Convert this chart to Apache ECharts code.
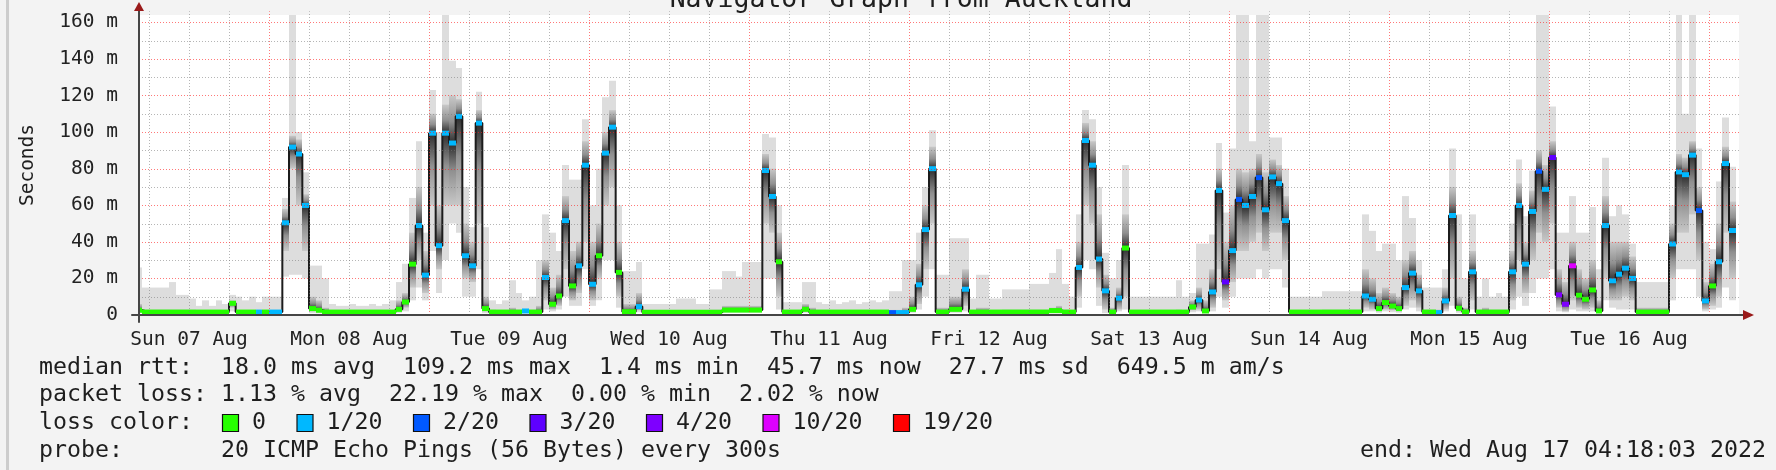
<!DOCTYPE html>
<html>
<head>
<meta charset="utf-8">
<script src="https://cdn.jsdelivr.net/npm/echarts@6/dist/echarts.min.js"></script>
<style>
html,body{margin:0;padding:0;background:#f3f3f3;}
#chart{width:1776px;height:470px;}
</style>
</head>
<body>
<div id="chart"></div>
<script>
// ---------------- data ----------------
const titleText = 'Navigator Graph from Auckland';
const yAxisTitle = 'Seconds';
const startHour = 4;      // first hourly step starts Sun 07 Aug 04:00 (hours after Sun 07 Aug 00:00)
const graphStart = 4.5;   // left edge of plot (hours after Sun 07 Aug 00:00)
const graphHours = 240;   // 10 days shown
const yCanvasMax = 164;   // top of plot canvas, ms
const dayLabels = ['Sun 07 Aug','Mon 08 Aug','Tue 09 Aug','Wed 10 Aug','Thu 11 Aug','Fri 12 Aug','Sat 13 Aug','Sun 14 Aug','Mon 15 Aug','Tue 16 Aug'];
const yTickValues = [0,20,40,60,80,100,120,140,160];

// median rtt per hour (ms)
const median = [
 2.6,1.6,1.6,1.6,1.6,1.6,1.6,1.6,1.6,1.6,
 1.6,1.6,1.6,1.6,6.4,1.6,1.6,1.6,1.6,1.6,
 1.6,1.6,50.4,91.8,88.0,59.9,3.5,2.6,1.6,1.6,
 1.6,1.6,1.6,1.6,1.6,1.6,1.6,1.6,1.6,3.1,
 7.1,27.8,48.9,21.8,99.4,37.9,99.4,94.0,108.6,32.4,
 26.9,104.9,3.5,1.6,1.6,1.6,1.6,1.6,2.2,1.6,
 1.6,20.5,5.9,10.4,51.6,15.9,26.9,81.9,16.8,32.4,
 88.5,102.7,23.3,1.8,1.8,4.6,1.5,1.5,1.5,1.5,
 1.5,1.5,1.5,1.5,1.5,1.5,1.5,1.5,2.7,2.7,
 2.7,2.7,2.7,2.7,79.0,64.8,29.1,1.6,1.6,1.6,
 3.1,1.6,1.6,1.6,1.6,1.6,1.6,1.6,1.6,1.6,
 1.6,1.6,1.6,1.3,1.3,1.3,3.1,16.5,46.7,80.0,
 1.6,1.6,3.1,3.1,14.1,1.6,1.6,1.6,1.6,1.6,
 1.6,1.6,1.6,1.6,1.6,1.6,1.6,2.4,2.4,1.6,
 1.6,26.0,95.4,81.9,30.6,13.2,1.6,9.2,36.6,1.6,
 1.6,1.6,1.6,1.6,1.6,1.6,1.6,1.6,4.4,8.2,
 2.2,12.6,68.1,18.1,35.2,63.2,59.9,64.8,75.1,57.5,
 75.5,71.8,51.6,1.6,1.6,1.6,1.6,1.6,1.6,1.6,
 1.6,1.6,1.6,1.6,10.4,8.6,3.5,6.8,4.9,3.5,
 15.0,22.9,13.2,1.6,1.6,1.3,7.7,54.4,3.7,1.6,
 23.6,1.6,1.6,1.6,1.6,1.6,23.6,59.9,27.8,56.6,
 78.6,68.7,86.1,11.0,5.9,26.9,10.8,8.6,13.7,2.2,
 48.9,18.7,22.3,25.6,20.0,1.6,1.6,1.6,1.6,1.6,
 38.8,78.2,76.7,87.4,57.1,7.7,15.9,29.1,82.8,46.2
];
// lost pings (of 20) per hour
const loss = [
 0,0,0,0,0,0,0,0,0,0,
 0,0,0,0,0,0,0,0,1,0,
 1,1,1,1,1,1,0,0,0,0,
 0,0,0,0,0,0,0,0,0,0,
 0,0,1,1,1,1,1,1,1,1,
 1,1,0,0,0,0,0,0,1,0,
 0,1,0,0,1,0,1,1,1,0,
 1,1,0,0,0,1,0,0,0,0,
 0,0,0,0,0,0,0,0,0,0,
 0,0,0,0,1,1,0,0,0,0,
 0,0,0,0,0,0,0,0,0,0,
 0,0,0,2,1,1,0,1,1,1,
 0,0,0,0,1,0,0,0,0,0,
 0,0,0,0,0,0,0,0,0,0,
 0,1,1,1,1,1,0,1,0,0,
 0,0,0,0,0,0,0,0,0,1,
 0,1,1,3,1,2,1,1,2,1,
 1,1,1,0,0,0,0,0,0,0,
 0,0,0,0,1,1,0,0,0,0,
 1,1,1,0,0,1,1,1,0,0,
 1,0,0,0,0,0,1,1,1,1,
 2,1,3,4,4,10,0,0,0,0,
 1,1,1,1,1,0,0,0,0,0,
 1,1,1,1,2,1,0,1,1,1
];
// smoke: slowest ping per hour (ms)
const pingMax = [
 26,15,15,15,15,18,11,11,9,5,
 8,5,8,6,11,10,8,10,7,10,
 10,10,64,180,100,78,27,27,20,6,
 5,5,6,5,5,6,5,6,8,18,
 28,64,95,45,123,100,180,139,135,70,
 48,122,48,8,6,8,19,12,8,10,
 30,55,45,35,82,74,74,107,60,80,
 119,128,60,24,24,29,6,6,6,6,
 6,9,9,9,6,6,14,14,24,24,
 21,29,29,29,99,97,60,7,7,7,
 18,18,7,6,8,6,7,8,6,7,
 8,7,8,13,13,30,30,45,70,101,
 22,22,42,42,42,9,22,22,9,9,
 14,14,14,14,17,17,17,23,36,17,
 10,55,112,107,70,34,20,30,82,10,
 10,10,10,10,10,10,19,10,12,39,
 39,44,94,56,91,180,180,95,180,180,
 97,97,80,10,10,10,10,10,13,13,
 13,13,13,13,55,46,35,39,39,30,
 65,53,30,15,15,15,25,91,55,20,
 55,10,20,10,12,10,50,85,54,79,
 180,180,114,45,45,65,45,45,59,25,
 86,54,60,55,39,18,18,18,18,18,
 60,180,110,180,91,40,36,73,108,81
];
// smoke: upper edge of the dense core (ms)
const pingHi = [
 6,3,3,3,3,3,3,3,3,2.8,
 2.8,2.8,2.8,2.8,8,2.8,2.8,2.8,2.8,2.8,
 2.8,2.8,58,98,96,66,10,8,4,2.8,
 2.8,2.8,2.8,2.8,2.8,2.8,2.8,2.8,2.8,8,
 12,45,70,35,110,60,115,120,118,50,
 40,112,10,3,2.8,2.8,4,3,3,3,
 5,30,15,22,65,35,40,95,40,50,
 100,112,40,6,6,12,2.8,2.8,2.8,2.8,
 2.8,2.8,2.8,2.8,2.8,2.8,3,3,5,5,
 5,5,5,5,88,80,45,2.8,2.8,2.8,
 6,4,2.8,2.8,2.8,2.8,2.8,2.8,2.8,2.8,
 2.8,2.8,2.8,2.8,2.8,4,10,28,60,92,
 4,4,10,10,25,2.8,4,4,2.8,2.8,
 3,3,3,3,3,3,3,4,5,3,
 2.8,40,105,95,55,22,4,15,55,2.8,
 2.8,2.8,2.8,2.8,2.8,2.8,3,2.8,8,15,
 8,25,80,40,60,80,78,80,88,78,
 85,82,65,2.8,2.8,2.8,2.8,2.8,3,3,
 3,3,3,3,25,20,12,15,12,10,
 30,35,22,3,3,3,15,70,10,4,
 35,3,4,3,3,3,35,72,40,68,
 90,82,95,25,18,40,25,20,30,8,
 65,40,40,40,32,4,4,4,4,4,
 50,88,86,95,70,18,28,50,92,62
];
// smoke: lower edge of the dense core (ms)
const pingLo = [
 1.5,1.1,1.1,1.1,1.1,1.1,1.1,1.1,1.1,1.1,
 1.1,1.1,1.1,1.1,4,1.1,1.1,1.1,1.1,1.1,
 1.1,1.1,35,80,60,35,2,1.5,1.1,1.1,
 1.1,1.1,1.1,1.1,1.1,1.1,1.1,1.1,1.1,1.8,
 4,15,30,12,60,25,60,60,60,20,
 18,50,2,1.1,1.1,1.1,1.1,1.1,1.1,1.1,
 1.1,8,3,5,25,8,12,40,8,20,
 60,70,10,1.2,1.2,2.5,1.1,1.1,1.1,1.1,
 1.1,1.1,1.1,1.1,1.1,1.1,1.1,1.1,1.8,1.8,
 1.8,1.8,1.8,1.8,50,45,10,1.1,1.1,1.1,
 1.8,1.1,1.1,1.1,1.1,1.1,1.1,1.1,1.1,1.1,
 1.1,1.1,1.1,1.0,1.0,1.0,1.8,6,25,50,
 1.1,1.1,1.8,1.8,5,1.1,1.1,1.1,1.1,1.1,
 1.1,1.1,1.1,1.1,1.1,1.1,1.1,1.5,1.5,1.1,
 1.1,10,60,50,15,3,1.1,3,10,1.1,
 1.1,1.1,1.1,1.1,1.1,1.1,1.1,1.1,2.5,3,
 1.5,4,25,8,18,35,35,40,45,35,
 45,45,30,1.1,1.1,1.1,1.1,1.1,1.1,1.1,
 1.1,1.1,1.1,1.1,4,3,2,3,2.5,2,
 5,8,4,1.1,1.1,1.0,3,20,2,1.1,
 8,1.1,1.1,1.1,1.1,1.1,8,30,12,30,
 45,40,50,4,2,8,4,3,4,1.5,
 20,8,8,10,8,1.1,1.1,1.1,1.1,1.1,
 20,45,45,55,30,3,5,10,45,20
];
// smoke: fastest ping per hour (ms)
const pingMin = [
 1.0,0.9,0.9,0.9,0.9,0.9,0.9,0.9,0.9,0.9,
 0.9,0.9,0.9,0.9,2,0.9,0.9,0.9,0.9,0.9,
 0.9,0.9,21,22,22,20,1,0.9,0.9,0.9,
 0.9,0.9,0.9,0.9,0.9,0.9,0.9,0.9,0.9,1.2,
 2,8,15,8,35,12,30,50,45,10,
 10,25,1,0.9,0.9,0.9,0.9,0.9,0.9,0.9,
 0.9,3,2,3,10,5,5,25,5,8,
 30,30,4,0.9,0.9,1.5,0.9,0.9,0.9,0.9,
 0.9,0.9,0.9,0.9,0.9,0.9,0.9,0.9,1.2,1.2,
 1.2,1.2,1.2,1.2,20,20,3,0.9,0.9,0.9,
 1.2,0.9,0.9,0.9,0.9,0.9,0.9,0.9,0.9,0.9,
 0.9,0.9,0.9,0.8,0.8,0.8,1.2,3,10,25,
 0.9,0.9,1.2,1.2,2,0.9,0.9,0.9,0.9,0.9,
 0.9,0.9,0.9,0.9,0.9,0.9,0.9,0.9,0.9,0.9,
 0.9,4,30,25,5,1,0.9,2,3,0.9,
 0.9,0.9,0.9,0.9,0.9,0.9,0.9,0.9,1.5,2,
 1,2,10,4,10,20,20,20,25,20,
 25,25,15,0.9,0.9,0.9,0.9,0.9,0.9,0.9,
 0.9,0.9,0.9,0.9,2,2,1.2,2,1.5,1.2,
 3,4,2,0.9,0.9,0.8,2,5,1.2,0.9,
 3,0.9,0.9,0.9,0.9,0.9,3,10,5,12,
 20,20,25,2,1.5,3,2,2,2,1,
 8,4,3,3,3,0.9,0.9,0.9,0.9,0.9,
 8,25,25,25,10,2,3,4,15,8
];

const lossLevels = [0,1,2,3,4,10,19];
const lossLabels = ['0','1/20','2/20','3/20','4/20','10/20','19/20'];
const lossColors = ['#26ff00','#00b8ff','#0059ff','#5e00ff','#7e00ff','#dd00ff','#ff0000'];

const statsLines = [
  'median rtt:  18.0 ms avg  109.2 ms max  1.4 ms min  45.7 ms now  27.7 ms sd  649.5 m am/s',
  'packet loss: 1.13 % avg  22.19 % max  0.00 % min  2.02 % now'
];
const lossTitle = 'loss color:';
const probeLine = 'probe:       20 ICMP Echo Pings (56 Bytes) every 300s';
const endLine = 'end: Wed Aug 17 04:18:03 2022';

// ---------------- layout / style ----------------
const FONT = '"DejaVu Sans Mono", monospace';
const pxPerHour = 1600 / graphHours;
const plotLeft = 139, plotZeroY = 315;
const xAxisMin = -7 / pxPerHour, xAxisMax = (1748 - plotLeft) / pxPerHour;
const pxPerMs = 300 / yCanvasMax;
const yAxisMin = -7 / pxPerMs, yAxisMax = (plotZeroY - 6) / pxPerMs;

const n = median.length;
const stepStart = median.map((_, i) => startHour + i - graphStart);
function lossIndex(l) { for (let k = 0; k < lossLevels.length; k++) if (l <= lossLevels[k]) return k; return lossLevels.length - 1; }

const smokeData = median.map((m, i) => [stepStart[i], stepStart[i] + 1, pingMin[i], pingLo[i], m, pingHi[i], pingMax[i]]);
const lossData = median.map((m, i) => [stepStart[i], stepStart[i] + 1, m, lossIndex(loss[i])]);
const lineData = median.map((m, i) => [Math.max(0, stepStart[i]), m]);
lineData.push([Math.min(graphHours, stepStart[n - 1] + 1), median[n - 1]]);

// grid lines: verticals every 6h (major at midnight), horizontals every 10 ms (major every 20)
const gridData = [];
for (let h = 6; h < graphStart + graphHours; h += 6) {
  if (h <= graphStart) continue;
  gridData.push([h - graphStart, 0, h - graphStart, yCanvasMax + 2, h % 24 === 0 ? 1 : 0]);
}
for (let v = 10; v <= 160; v += 10) gridData.push([0, v, graphHours, v, v % 20 === 0 ? 1 : 0]);

const clampX = t => Math.min(Math.max(t, 0), graphHours);

const option = {
  animation: false,
  backgroundColor: '#f3f3f3',
  textStyle: { fontFamily: FONT },
  grid: { left: plotLeft - 7, right: 1776 - 1748, top: 6, bottom: 470 - 322, containLabel: false, outerBoundsMode: 'none' },
  xAxis: {
    type: 'value', min: xAxisMin, max: xAxisMax, z: 10,
    axisLine: { show: true, onZero: true, lineStyle: { color: '#454545', width: 2 } },
    axisTick: { show: false }, splitLine: { show: false },
    axisLabel: {
      customValues: dayLabels.map((_, k) => 12 + 24 * k - graphStart),
      formatter: v => dayLabels[Math.round((v + graphStart - 12) / 24)] || '',
      fontFamily: FONT, fontSize: 19.5, color: '#222', margin: 8
    }
  },
  yAxis: {
    type: 'value', min: yAxisMin, max: yAxisMax, z: 10,
    axisLine: { show: true, onZero: true, lineStyle: { color: '#454545', width: 2 } },
    axisTick: { show: false }, splitLine: { show: false },
    axisLabel: {
      customValues: yTickValues,
      formatter: v => v === 0 ? '0' : v + ' m',
      fontFamily: FONT, fontSize: 19.5, color: '#222', margin: 14
    }
  },
  series: [
    { // white plot canvas
      type: 'custom', z: 1, silent: true, clip: false,
      data: [[0, 0, graphHours, yCanvasMax]],
      renderItem: (p, api) => {
        const a = api.coord([api.value(0), api.value(1)]), b = api.coord([api.value(2), api.value(3)]);
        return { type: 'rect', shape: { x: a[0], y: b[1], width: b[0] - a[0], height: a[1] - b[1] }, style: { fill: '#ffffff' } };
      }
    },
    { // smoke
      type: 'custom', z: 2, silent: true, clip: false,
      encode: { x: [0, 1], y: [2, 3, 4, 5, 6] },
      data: smokeData,
      renderItem: (p, api) => {
        const a = clampX(api.value(0)), b = clampX(api.value(1));
        if (b <= a) return null;
        const xa = Math.round(api.coord([a, 0])[0]), xb = Math.round(api.coord([b, 0])[0]);
        const Y = v => api.coord([a, Math.min(v, yCanvasMax)])[1];
        const yMin = Y(api.value(2)), yLo = Y(api.value(3)), yMed = Y(api.value(4)), yHi = Y(api.value(5)), yMax = Y(api.value(6));
        let f = (yMed - yHi) / Math.max(1, yLo - yHi);
        f = Math.min(0.98, Math.max(0.02, f));
        return {
          type: 'group',
          children: [
            { type: 'rect', shape: { x: xa, y: yMax, width: xb - xa, height: yMin - yMax }, style: { fill: '#dddddd' } },
            { type: 'rect', shape: { x: xa, y: yHi, width: xb - xa, height: yLo - yHi },
              style: { fill: new echarts.graphic.LinearGradient(0, 0, 0, 1, [
                { offset: 0, color: '#c8c8c8' },
                { offset: f * 0.55, color: '#909090' },
                { offset: f, color: '#2c2c2c' },
                { offset: f + (1 - f) * 0.45, color: '#909090' },
                { offset: 1, color: '#c8c8c8' }
              ]) } }
          ]
        };
      }
    },
    { // median line
      type: 'line', z: 3, silent: true, step: 'end', symbol: 'none', data: lineData,
      lineStyle: { color: '#1c1c1c', width: 2 }
    },
    { // loss coloured median marks
      type: 'custom', z: 4, silent: true, clip: false,
      encode: { x: [0, 1], y: 2 },
      data: lossData,
      renderItem: (p, api) => {
        const a = clampX(api.value(0)), b = clampX(api.value(1));
        if (b <= a) return null;
        const pa = api.coord([a, api.value(2)]), pb = api.coord([b, api.value(2)]);
        return { type: 'rect', shape: { x: Math.round(pa[0]), y: pa[1] - 2.5, width: Math.round(pb[0]) - Math.round(pa[0]), height: 5 },
                 style: { fill: lossColors[api.value(3)] } };
      }
    },
    { // dotted grid
      type: 'custom', z: 5, silent: true, clip: false,
      encode: { x: [0, 2], y: [1, 3] },
      data: gridData,
      renderItem: (p, api) => {
        const a = api.coord([api.value(0), api.value(1)]), b = api.coord([api.value(2), api.value(3)]);
        const vert = api.value(0) === api.value(2);
        const x1 = vert ? Math.round(a[0]) + 0.5 : a[0], x2 = vert ? Math.round(b[0]) + 0.5 : b[0];
        const y1 = vert ? a[1] : Math.round(a[1]) + 0.5, y2 = vert ? b[1] : Math.round(b[1]) + 0.5;
        return { type: 'line', shape: { x1, y1, x2, y2 },
                 style: { stroke: api.value(4) ? 'rgba(255,30,30,0.6)' : 'rgba(120,120,120,0.55)', lineWidth: 1, lineDash: [1, 2] } };
      }
    },
    { // axis arrows
      type: 'custom', z: 12, silent: true, clip: false,
      data: [[0, 0]],
      renderItem: (p, api) => {
        const top = api.coord([0, yAxisMax]);
        const right = api.coord([xAxisMax, 0]);
        const col = '#9a1a1a';
        return { type: 'group', children: [
          { type: 'polygon', shape: { points: [[top[0] - 5, top[1] + 5], [top[0] + 5, top[1] + 5], [top[0], top[1] - 4]] }, style: { fill: col } },
          { type: 'polygon', shape: { points: [[right[0] - 5, right[1] - 5], [right[0] - 5, right[1] + 5], [right[0] + 6, right[1]]] }, style: { fill: col } }
        ] };
      }
    }
  ],
  graphic: (function () {
    const els = [];
    const txt = (text, x, y, size, align, extra) => Object.assign({
      type: 'text', silent: true, z: 20,
      style: { text, x, y, fill: '#1e1e1e', font: size + 'px ' + FONT, align: align || 'left', verticalAlign: 'middle' }
    }, extra || {});
    els.push({ type: 'rect', silent: true, z: 20, shape: { x: 6, y: 0, width: 3, height: 470 }, style: { fill: '#cdcdcd' } });
    els.push(txt(titleText, 901, 0, 26.5, 'center'));
    els.push({ type: 'text', silent: true, z: 20, x: 28, y: 165, rotation: Math.PI / 2,
      style: { text: yAxisTitle, x: 0, y: 0, fill: '#1e1e1e', font: '19.5px ' + FONT, align: 'center', verticalAlign: 'middle' } });
    const LF = 23.25;
    els.push(txt(statsLines[0], 39, 367.5, LF));
    els.push(txt(statsLines[1], 39, 395.3, LF));
    els.push(txt(lossTitle, 39, 423, LF));
    const boxX = [222, 296.5, 413, 529.5, 646, 762.5, 893];
    lossLabels.forEach((lab, k) => {
      els.push({ type: 'rect', silent: true, z: 20, shape: { x: boxX[k] + 0.5, y: 414.5, width: 16, height: 17 },
        style: { fill: lossColors[k], stroke: '#111', lineWidth: 1.2 } });
      els.push(txt(lab, boxX[k] + 30, 423, LF));
    });
    els.push(txt(probeLine, 39, 450.8, LF));
    els.push(txt(endLine, 1766, 450.8, LF, 'right'));
    return els;
  })()
};

const chart = echarts.init(document.getElementById('chart'), null, { renderer: 'canvas' });
chart.setOption(option);
</script>
</body>
</html>
